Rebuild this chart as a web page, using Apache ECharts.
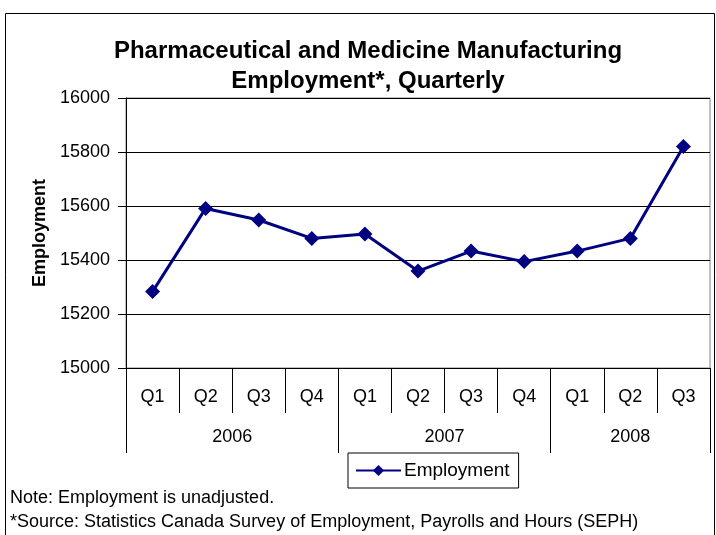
<!DOCTYPE html>
<html>
<head>
<meta charset="utf-8">
<script src="https://cdn.jsdelivr.net/npm/echarts@6/dist/echarts.min.js"></script>
<style>
  html, body { margin: 0; padding: 0; background: #fff; }
  #chart { width: 716px; height: 535px; }
</style>
</head>
<body>
<div id="chart"></div>
<script>
// Quarterly employment, pharmaceutical and medicine manufacturing
const quarters = ['Q1', 'Q2', 'Q3', 'Q4', 'Q1', 'Q2', 'Q3', 'Q4', 'Q1', 'Q2', 'Q3'];
const years = ['2006', '2007', '2008'];
const quartersPerYear = [4, 4, 3];
const employment = [15283, 15591, 15548, 15480, 15496, 15359, 15433, 15394, 15433, 15480, 15820];
const yTicks = [15000, 15200, 15400, 15600, 15800, 16000];

// Year group boundaries and centres on a 0..n scale (one unit per quarter)
const yearBounds = [0];
const yearMids = [];
quartersPerYear.forEach((n, i) => {
  const start = yearBounds[i];
  yearBounds.push(start + n);
  yearMids.push(start + n / 2);
});

const FONT = '"Liberation Sans", Arial, sans-serif';
const chart = echarts.init(document.getElementById('chart'));

chart.setOption({
  backgroundColor: '#ffffff',
  animation: false,
  textStyle: { fontFamily: FONT },
  title: {
    text: 'Pharmaceutical and Medicine Manufacturing\nEmployment*, Quarterly',
    left: 363,
    top: 31,
    textAlign: 'center',
    textStyle: { fontFamily: FONT, fontSize: 24, fontWeight: 'bold', color: '#000', lineHeight: 30 }
  },
  legend: {
    data: ['Employment'],
    left: 348,
    top: 453,
    itemWidth: 45,
    itemHeight: 14,
    itemGap: 0,
    padding: [8, 9, 8, 7],
    borderColor: '#000',
    borderWidth: 1,
    borderRadius: 0,
    textStyle: { fontFamily: FONT, fontSize: 19, color: '#000', padding: [0, 0, 0, -2] }
  },
  grid: {
    left: 126, right: 6, top: 98, bottom: 167,
    show: true, borderColor: '#808080', borderWidth: 1, backgroundColor: '#fff'
  },
  xAxis: [
    {
      type: 'category',
      data: quarters,
      boundaryGap: true,
      axisLine: { lineStyle: { color: '#000', width: 1 } },
      axisTick: { show: true, interval: 0, length: 45, lineStyle: { color: '#000' } },
      axisLabel: { interval: 0, margin: 20, fontSize: 18, color: '#000', fontFamily: FONT },
      splitLine: { show: false }
    },
    {
      type: 'value',
      min: 0,
      max: quarters.length,
      position: 'bottom',
      axisLine: { show: false },
      splitLine: { show: false },
      axisTick: { show: true, length: 85, customValues: yearBounds, lineStyle: { color: '#000' } },
      axisLabel: {
        customValues: yearMids,
        margin: 60,
        fontSize: 18,
        color: '#000',
        fontFamily: FONT,
        formatter: (v) => years[yearMids.indexOf(v)]
      }
    }
  ],
  yAxis: {
    type: 'value',
    min: yTicks[0],
    max: yTicks[yTicks.length - 1],
    interval: 200,
    name: 'Employment',
    nameLocation: 'middle',
    nameGap: 69,
    nameTextStyle: { fontFamily: FONT, fontSize: 18, fontWeight: 'bold', color: '#000' },
    axisLine: { show: true, lineStyle: { color: '#000', width: 1 } },
    axisTick: { show: true, length: 8, lineStyle: { color: '#000' } },
    axisLabel: { margin: 16, fontSize: 18, color: '#000', fontFamily: FONT, formatter: (v) => String(v) },
    splitLine: { show: true, lineStyle: { color: '#000', width: 1 } }
  },
  series: [
    {
      name: 'Employment',
      type: 'line',
      xAxisIndex: 0,
      data: employment,
      symbol: 'diamond',
      symbolSize: 15,
      lineStyle: { color: '#000080', width: 3 },
      itemStyle: { color: '#000080' }
    }
  ],
  graphic: [
    {
      type: 'rect',
      shape: { x: 5.5, y: 13.5, width: 709, height: 540 },
      style: { fill: 'none', stroke: '#000', lineWidth: 1 },
      silent: true,
      z: -10
    },
    {
      type: 'text',
      left: 10,
      top: 489,
      style: { text: 'Note: Employment is unadjusted.', font: '18px ' + FONT, fill: '#000' }
    },
    {
      type: 'text',
      left: 10,
      top: 513,
      style: { text: '*Source: Statistics Canada Survey of Employment, Payrolls and Hours (SEPH)', font: '18px ' + FONT, fill: '#000' }
    }
  ]
});
</script>
</body>
</html>
